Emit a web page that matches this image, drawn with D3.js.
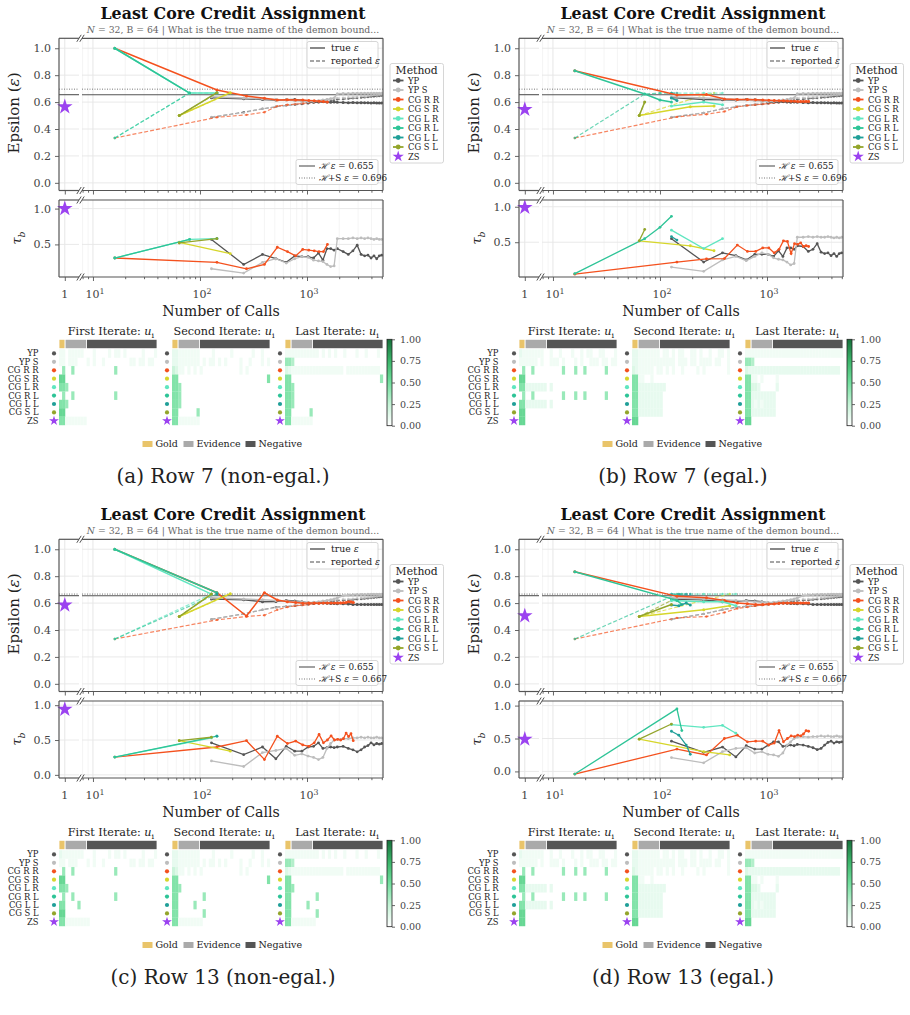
<!DOCTYPE html>
<html>
<head>
<meta charset="utf-8">
<script src="https://cdn.jsdelivr.net/npm/d3@7"></script>
<style>
  body { margin: 0; background: #fff; }
  svg { display: block; }
  text { font-family: "DejaVu Serif", serif; }
</style>
</head>
<body>
<div id="fig"></div>
<script>
// ---- methods ----
const methods = ["YP", "YP S", "CG R R", "CG S R", "CG L R", "CG R L", "CG L L", "CG S L"];
const colors = ["#555555", "#bdbdbd", "#f4511e", "#d6d62a", "#5fe6c0", "#2ec497", "#1f9f98", "#93a52b"];
const zsColor = "#9b42f0";

const captions = ["(a) Row 7 (non-egal.)", "(b) Row 7 (egal.)", "(c) Row 13 (non-egal.)", "(d) Row 13 (egal.)"];
const hValue = 0.655;
const hsValues = [0.696, 0.696, 0.667, 0.667];
const zsEps = [0.565, 0.545, 0.585, 0.505];
const zsTau = [1.0, 0.99, 0.94, 0.49];
const tauDomains = [[0.045, 1.12], [0.01, 1.095], [-0.045, 1.06], [-0.10, 1.07]];

// ---- series: [calls, true eps, reported eps, tau_b] ----
// panel a
const a_YP = [[128,.632,.487,.57],[256,.625,.525,.22],[384,.62,.55,.36],[512,.615,.565,.30],[640,.618,.575,.25],[768,.62,.58,.34],[896,.612,.585,.33],[1024,.60,.59,.33],[1152,.603,.595,.31],[1280,.60,.60,.38],[1408,.605,.605,.28],[1536,.60,.61,.44],[1664,.598,.612,.44],[1792,.60,.615,.42],[1920,.598,.62,.44],[2176,.597,.622,.40],[2432,.596,.625,.36],[2688,.597,.628,.41],[2944,.595,.63,.49],[3200,.596,.633,.36],[3456,.595,.635,.34],[3712,.595,.637,.35],[3968,.594,.64,.31],[4224,.595,.642,.34],[4480,.594,.643,.30],[4736,.594,.645,.34],[4992,.594,.647,.35]];
const a_YPS = [[128,.64,.49,.16],[256,.63,.52,.10],[384,.625,.55,.25],[512,.62,.565,.30],[640,.615,.575,.24],[768,.61,.585,.30],[896,.608,.595,.33],[1024,.605,.60,.32],[1152,.607,.605,.28],[1280,.61,.61,.27],[1408,.615,.615,.26],[1536,.62,.62,.22],[1664,.625,.625,.19],[1792,.63,.628,.20],[1920,.662,.63,.58],[2176,.664,.633,.58],[2432,.664,.636,.58],[2688,.665,.638,.59],[2944,.665,.64,.58],[3200,.665,.643,.59],[3456,.665,.645,.58],[3712,.665,.647,.59],[3968,.666,.65,.58],[4224,.666,.652,.57],[4480,.666,.653,.58],[4736,.666,.655,.57],[4992,.666,.657,.57]];
const a_CGRR = [[16,1.0,.333,.31],[144,.69,.487,.25],[272,.645,.505,.16],[400,.628,.525,.22],[528,.615,.57,.46],[656,.618,.58,.40],[784,.615,.585,.34],[912,.615,.59,.43],[1040,.612,.595,.42],[1168,.61,.598,.41],[1296,.607,.60,.40],[1424,.605,.60,.40],[1552,.60,.60,.50]];
const a_CGSR = [[64,.50,.50,.53],[192,.67,.667,.37]];
const a_CGLR = [[16,1.0,.333,.31],[80,.667,.667,.57],[144,.667,.667,.58]];
const a_CGRL = [[16,1.0,.333,.31],[80,.667,.667,.57]];
const a_CGLL = [[144,.667,.667,.58]];
const a_CGSL = [[64,.50,.50,.52],[144,.67,.667,.58]];

// panel b
const b_YP = [[128,.635,.487,.55],[256,.62,.52,.22],[384,.618,.55,.35],[512,.615,.565,.31],[640,.62,.575,.25],[768,.618,.58,.33],[896,.612,.585,.33],[1024,.60,.59,.33],[1152,.602,.595,.30],[1280,.60,.60,.38],[1408,.604,.605,.30],[1536,.60,.61,.42],[1664,.598,.612,.42],[1792,.60,.615,.40],[1920,.598,.62,.45],[2176,.597,.622,.44],[2432,.596,.625,.37],[2688,.597,.628,.40],[2944,.595,.63,.48],[3200,.596,.633,.36],[3456,.595,.635,.34],[3712,.595,.637,.35],[3968,.594,.64,.31],[4224,.595,.642,.34],[4480,.594,.643,.30],[4736,.594,.645,.34],[4992,.594,.647,.35]];
const b_YPS = [[128,.64,.49,.15],[256,.63,.52,.09],[384,.625,.55,.25],[512,.62,.565,.30],[640,.615,.575,.24],[768,.61,.585,.30],[896,.608,.595,.35],[1024,.605,.60,.33],[1152,.607,.605,.28],[1280,.61,.61,.26],[1408,.615,.615,.25],[1536,.62,.62,.22],[1664,.625,.625,.18],[1792,.63,.628,.20],[1920,.662,.63,.57],[2176,.664,.633,.57],[2432,.664,.636,.58],[2688,.665,.638,.57],[2944,.665,.64,.58],[3200,.665,.643,.57],[3456,.665,.645,.57],[3712,.665,.647,.58],[3968,.666,.65,.57],[4224,.666,.652,.56],[4480,.666,.653,.57],[4736,.666,.655,.56],[4992,.666,.657,.57]];
const b_CGRR = [[16,.833,.333,.05],[144,.652,.49,.22],[272,.657,.51,.265],[400,.623,.53,.27],[528,.62,.565,.46],[656,.62,.575,.37],[784,.618,.58,.37],[912,.615,.585,.42],[1040,.613,.59,.42],[1168,.612,.595,.35],[1296,.61,.598,.40],[1424,.61,.60,.52],[1552,.608,.60,.51],[1680,.606,.602,.34],[1808,.606,.602,.48],[1936,.605,.603,.47],[2064,.605,.603,.49],[2192,.604,.604,.44],[2320,.604,.604,.45],[2448,.604,.604,.44]];
const b_CGSR = [[64,.50,.50,.52],[192,.565,.62,.45],[320,.57,.667,.38]];
const b_CGLR = [[128,.57,.667,.67],[256,.60,.667,.41],[384,.58,.667,.55]];
const b_CGRL = [[16,.833,.333,.058],[72,.66,.66,.55],[100,.615,.667,.71],[128,.60,.667,.865]];
const b_CGLL = [[128,.63,.667,.58],[144,.612,.667,.53]];
const b_CGSL = [[64,.50,.50,.52],[72,.60,.60,.68]];

// panel c
const c_YP = [[128,.63,.48,.46],[256,.625,.52,.29],[384,.61,.55,.40],[512,.612,.57,.23],[640,.62,.575,.41],[768,.615,.58,.34],[896,.61,.585,.34],[1024,.60,.59,.40],[1152,.60,.595,.41],[1280,.60,.60,.46],[1408,.60,.605,.38],[1536,.598,.61,.39],[1664,.597,.612,.40],[1792,.597,.615,.39],[1920,.596,.618,.40],[2176,.595,.62,.41],[2432,.594,.622,.38],[2688,.59,.625,.36],[2944,.59,.628,.33],[3200,.59,.63,.36],[3456,.59,.632,.40],[3712,.59,.635,.42],[3968,.59,.637,.46],[4224,.59,.64,.43],[4480,.59,.642,.45],[4736,.59,.644,.44],[4992,.59,.646,.45]];
const c_YPS = [[128,.64,.48,.20],[256,.63,.52,.12],[384,.625,.55,.32],[512,.62,.565,.35],[640,.615,.575,.38],[768,.61,.585,.28],[896,.608,.59,.30],[1024,.605,.595,.27],[1152,.607,.60,.25],[1280,.61,.605,.22],[1408,.615,.61,.25],[1536,.62,.615,.38],[1664,.625,.62,.45],[1792,.63,.622,.50],[1920,.64,.625,.51],[2176,.655,.628,.52],[2432,.66,.63,.52],[2688,.662,.633,.53],[2944,.663,.636,.53],[3200,.664,.638,.54],[3456,.664,.64,.53],[3712,.665,.642,.54],[3968,.665,.645,.53],[4224,.665,.647,.53],[4480,.665,.65,.54],[4736,.665,.652,.53],[4992,.665,.655,.53]];
const c_CGRR = [[16,1.0,.333,.255],[144,.677,.475,.40],[272,.504,.50,.49],[400,.677,.51,.22],[528,.623,.55,.555],[656,.61,.57,.45],[784,.605,.58,.485],[912,.598,.585,.43],[1040,.60,.59,.41],[1168,.60,.595,.46],[1296,.598,.598,.58],[1424,.60,.60,.46],[1552,.60,.60,.50],[1680,.60,.60,.56],[1808,.60,.60,.50],[1936,.60,.60,.51],[2064,.60,.602,.50],[2192,.602,.602,.52],[2320,.605,.603,.60],[2448,.61,.603,.55],[2576,.61,.604,.59],[2704,.605,.604,.49]];
const c_CGSR = [[64,.50,.50,.49],[192,.67,.667,.34]];
const c_CGLR = [[16,1.0,.333,.255],[128,.667,.667,.53]];
const c_CGRL = [[16,1.0,.333,.255],[144,.677,.667,.555]];
const c_CGLL = [[144,.667,.667,.555]];
const c_CGSL = [[64,.50,.50,.49],[128,.667,.667,.54]];

// panel d
const d_YP = [[128,.63,.48,.46],[256,.625,.52,.29],[384,.61,.55,.37],[512,.612,.57,.22],[640,.62,.575,.39],[768,.615,.58,.34],[896,.61,.585,.34],[1024,.60,.59,.40],[1152,.60,.595,.45],[1280,.60,.60,.45],[1408,.60,.605,.38],[1536,.598,.61,.39],[1664,.597,.612,.40],[1792,.597,.615,.39],[1920,.596,.618,.41],[2176,.595,.62,.40],[2432,.594,.622,.38],[2688,.59,.625,.36],[2944,.59,.628,.33],[3200,.59,.63,.35],[3456,.59,.632,.40],[3712,.59,.635,.44],[3968,.59,.637,.46],[4224,.59,.64,.43],[4480,.59,.642,.45],[4736,.59,.644,.44],[4992,.59,.646,.45]];
const d_YPS = [[128,.64,.48,.21],[256,.63,.52,.13],[384,.625,.55,.30],[512,.62,.565,.35],[640,.615,.575,.36],[768,.61,.585,.28],[896,.608,.59,.30],[1024,.605,.595,.26],[1152,.607,.60,.25],[1280,.61,.605,.23],[1408,.615,.61,.28],[1536,.62,.615,.40],[1664,.625,.62,.45],[1792,.63,.622,.50],[1920,.64,.625,.52],[2176,.655,.628,.53],[2432,.66,.63,.52],[2688,.662,.633,.53],[2944,.663,.636,.53],[3200,.664,.638,.54],[3456,.664,.64,.53],[3712,.665,.642,.54],[3968,.665,.645,.53],[4224,.665,.647,.53],[4480,.665,.65,.54],[4736,.665,.652,.53],[4992,.665,.655,.53]];
const d_CGRR = [[16,.833,.333,-.04],[144,.65,.49,.34],[272,.64,.50,.25],[400,.62,.53,.50],[528,.60,.56,.55],[656,.595,.57,.45],[784,.59,.58,.46],[912,.59,.585,.46],[1040,.593,.59,.40],[1168,.595,.592,.43],[1296,.598,.595,.62],[1424,.60,.597,.45],[1552,.60,.598,.50],[1680,.60,.60,.54],[1808,.60,.60,.53],[1936,.60,.60,.55],[2064,.60,.60,.54],[2192,.60,.60,.57],[2320,.60,.60,.62],[2448,.60,.60,.61]];
const d_CGSR = [[64,.50,.50,.49],[256,.55,.62,.30],[448,.58,.667,.25]];
const d_CGLR = [[128,.62,.667,.71],[256,.61,.667,.67],[384,.61,.667,.70],[512,.58,.667,.58]];
const d_CGRL = [[16,.833,.333,-.04],[144,.62,.667,.95],[160,.59,.667,.62]];
const d_CGLL = [[128,.585,.667,.61],[150,.58,.667,.55],[176,.60,.667,.40],[192,.585,.667,.26]];
const d_CGSL = [[64,.50,.50,.49],[128,.59,.62,.72]];

// ---- heatmaps: 9 rows (methods + ZS) x 32 docs: 2 gold | 7 evidence | 23 negative ----
const categories = ["Gold", "Evidence", "Negative"];
const catCounts = [2, 7, 23];
const catColors = ["#e9c46a", "#aaaaaa", "#555555"];
const shade = [0, 0.03, 0.06, 0.1, 0.15, 0.22, 0.3, 0.38, 0.45, 0.55];

const heatA1 = ["22 0222220 00200002022020000020002","22 0222000 20200200000000220220220","07 0070000 00000000070000000000000","99 0000000 00000000000000000000000","88 7000000 00000000000000000000000","07 0070000 00000000070000000000000","88 7000000 00000000000000000000000","99 0000000 00000000000000000000000","88 2222222 00000000000000000000000"];
const heatA2 = ["33 2222222 00002000002000000200200","33 2222222 02022020200002002000202","54 2202020 20000000000002020000000","88 0000000 00000000000000000000008","88 7000000 00000000000000000000000","88 7000000 00000000000000000000000","88 7000000 00000000000000000000000","88 0000007 00000000000000000000000","88 2222222 00000000000000000000000"];
const heatA3 = ["22 2222222 22020202002000200200020","77 6000000 00000000000000000000000","43 2222222 22222222220222222222220","88 0000000 00000000000000000000007","88 7000000 00000000000000000000000","88 7000000 00000000000000000000000","88 7000000 00000000000000000000000","88 0000007 00000000000000000000000","88 2222222 00000000000000000000000"];

const heatB1 = ["32 2222220 02002000200202200220002","22 2222020 02220200020200222022022","07 0070000 00000700070070000007000","99 0000000 00000000000000000000000","88 3333333 03000000000000000000000","07 0070000 00000700070070000007000","88 3333333 03000000000000000000000","99 0000000 00000000000000000000000","99 0000000 00000000000000000000000"];
const heatB2 = ["33 2222222 02202022002202002002202","33 2222222 22222022202202222022002","43 2222202 20202002000020200000002","88 2200200 00000000000000000000000","88 3333333 33000000000000000000000","88 3333333 30000000000000000000000","88 3333333 30000000000000000000000","88 3333333 30000000000000000000000","99 0000000 00000000000000000000000"];
const heatB3 = ["22 2222222 22222222222222222222222","77 6000000 00000000000000000000000","43 3333333 33333333333333333333330","88 2202000 02000000000000000000000","88 4430000 03000000000000000000000","88 3333333 30000000000000000000000","88 3232333 30000000000000000000000","88 3333333 30000000000000000000000","99 0000000 00000000000000000000000"];

const heatC1 = ["32 2222220 00200002022020000020002","22 0222000 20200200000000220220220","07 0070000 00000000070000000000000","99 0000000 00000000000000000000000","88 7000000 00000000000000000000000","07 0070000 00000000070000000000000","88 0000700 00000000000000000000000","99 0000000 00000000000000000000000","88 2222222 20000000000000000000000"];
const heatC2 = ["33 2222222 00002000002000000200200","33 2222222 02022020200002002000202","54 2202020 20000000000002020000000","88 0000000 00000000000000000000008","88 7000000 00000000000000000000000","88 0000000 07000000000000000000000","88 0000070 00000000000000000000000","88 0000000 07000000000000000000000","88 2222222 20000000000000000000000"];
const heatC3 = ["22 2222222 22020202002000200200020","77 6000000 00000000000000000000000","43 2222222 22222222220222222222220","88 0000000 00000000000000000000007","88 7000000 00000000000000000000000","88 0000000 07000000000000000000000","88 0000070 00000000000000000000000","88 0000000 07000000000000000000000","88 2222222 20000000000000000000000"];

const heatD1 = ["32 2222220 02002000200202200220002","22 2222020 02220200020200222022022","07 0070000 00000700070070000007000","99 0000000 00000000000000000000000","88 3333333 03000000000000000000000","07 0070000 00000700070070000007000","88 3333333 03000000000000000000000","99 0000000 00000000000000000000000","99 0000000 00000000000000000000000"];
const heatD2 = ["33 2222222 02202022002202002002202","33 2222222 22222022202202222022002","43 2222202 20202002000020200000002","88 2200200 00000000000000000000000","88 3333333 33000000000000000000000","88 3333333 30000000000000000000000","88 3333333 30000000000000000000000","88 3333333 30000000000000000000000","99 0000000 00000000000000000000000"];
const heatD3 = ["22 2222222 22222222222222222222222","77 6000000 00000000000000000000000","43 3333333 33333333333333333333330","88 2202000 02000000000000000000000","88 4430000 03000000000000000000000","88 3333333 30000000000000000000000","88 3232333 30000000000000000000000","88 3333333 30000000000000000000000","99 0000000 00000000000000000000000"];

const iterTitles = ["First Iterate: ", "Second Iterate: ", "Last Iterate: "];

const allSeries = [
  [a_YP, a_YPS, a_CGRR, a_CGSR, a_CGLR, a_CGRL, a_CGLL, a_CGSL],
  [b_YP, b_YPS, b_CGRR, b_CGSR, b_CGLR, b_CGRL, b_CGLL, b_CGSL],
  [c_YP, c_YPS, c_CGRR, c_CGSR, c_CGLR, c_CGRL, c_CGLL, c_CGSL],
  [d_YP, d_YPS, d_CGRR, d_CGSR, d_CGLR, d_CGRL, d_CGLL, d_CGSL]
];
const allHeat = [[heatA1, heatA2, heatA3], [heatB1, heatB2, heatB3], [heatC1, heatC2, heatC3], [heatD1, heatD2, heatD3]];

// ---- layout ----
const offsets = [[0, 0], [460, 0], [0, 501], [460, 501]];
const L = { x0: 59, x1: 79, x2: 82, x3: 383, eTop: 38.3, eBot: 190.5, tTop: 200, tBot: 277 };

const svg = d3.select("#fig").append("svg").attr("width", 910).attr("height", 1015);
const defs = svg.append("defs");

const cmap = d3.scaleLinear().domain([0, 0.25, 0.5, 0.75, 1])
  .range(["#ffffff", "#c4f3d6", "#72df9e", "#3bb56a", "#16703b"]);

function richText(g, x, y, parts, size, anchor, fill) {
  const t = g.append("text").attr("x", x).attr("y", y).attr("font-size", size)
    .attr("text-anchor", anchor || "start").attr("fill", fill || "#222");
  let cur = 0;
  parts.forEach(p => {
    const [s, st] = typeof p === "string" ? [p, ""] : p;
    const ts = t.append("tspan").text(s);
    let shift = 0;
    if (st.includes("i")) ts.attr("font-style", "italic");
    if (st.includes("sub")) { shift = size * 0.3; ts.attr("font-size", size * 0.72); }
    if (st.includes("sup")) { shift = -size * 0.4; ts.attr("font-size", size * 0.72); }
    if (shift !== cur) ts.attr("dy", shift - cur);
    cur = shift;
  });
  return t;
}

function styleAxis(sel, size) {
  sel.select(".domain").remove();
  sel.selectAll(".tick line").attr("stroke", "#555").attr("stroke-width", 0.9);
  sel.selectAll(".tick text").attr("fill", "#444").attr("font-size", size || 11)
    .attr("font-family", "DejaVu Serif");
}

const majors = [10, 100, 1000];
const minors = [8, 9, 20, 30, 40, 50, 60, 70, 80, 90, 200, 300, 400, 500, 600, 700, 800, 900, 2000, 3000, 4000, 5000];

function frame(g, yTop, yBot) {
  const seg = (x1, y1, x2, y2) => g.append("line").attr("x1", x1).attr("y1", y1).attr("x2", x2).attr("y2", y2)
    .attr("stroke", "#555").attr("stroke-width", 1.2);
  seg(L.x0, yTop, L.x1, yTop); seg(L.x0, yBot, L.x1, yBot); seg(L.x0, yTop, L.x0, yBot);
  seg(L.x2, yTop, L.x3, yTop); seg(L.x2, yBot, L.x3, yBot); seg(L.x3, yTop, L.x3, yBot);
  // break marks
  [yTop, yBot].forEach(y => {
    [L.x1, L.x2].forEach(x => {
      g.append("line").attr("x1", x - 2.2).attr("y1", y + 3.5).attr("x2", x + 2.2).attr("y2", y - 3.5)
        .attr("stroke", "#555").attr("stroke-width", 1);
    });
  });
}

function drawPanel(k) {
  const [ox, oy] = offsets[k];
  const g = svg.append("g").attr("transform", `translate(${ox},${oy})`);
  const series = allSeries[k];

  const xMain = d3.scaleLog().domain([7.9, 5130]).range([L.x2, L.x3]);
  const xZS = d3.scaleLinear().domain([0.55, 2.1]).range([L.x0, L.x1]);
  const yEps = d3.scaleLinear().domain([-0.057, 1.074]).range([L.eBot, L.eTop]);
  const yTau = d3.scaleLinear().domain(tauDomains[k]).range([L.tBot, L.tTop]);

  // title
  g.append("text").attr("x", 233).attr("y", 18.5).attr("text-anchor", "middle")
    .attr("font-size", 15.8).attr("font-weight", "bold").attr("fill", "#111")
    .text("Least Core Credit Assignment");
  richText(g, 233, 32.5, [["N", "i"], " = 32,  B = 64   |   What is the true name of the demon bound..."], 9.3, "middle", "#666");

  // ---- grids ----
  const grid = g.append("g");
  [[L.eTop, L.eBot], [L.tTop, L.tBot]].forEach(([t, b]) => {
    minors.forEach(v => grid.append("line").attr("x1", xMain(v)).attr("x2", xMain(v)).attr("y1", t).attr("y2", b)
      .attr("stroke", "#f1f1f1").attr("stroke-width", 0.8));
    majors.forEach(v => grid.append("line").attr("x1", xMain(v)).attr("x2", xMain(v)).attr("y1", t).attr("y2", b)
      .attr("stroke", "#e3e3e3").attr("stroke-width", 0.9));
    grid.append("line").attr("x1", xZS(1)).attr("x2", xZS(1)).attr("y1", t).attr("y2", b)
      .attr("stroke", "#e3e3e3").attr("stroke-width", 0.9);
  });
  const epsTicks = [0, 0.2, 0.4, 0.6, 0.8, 1.0];
  const tauTicks = [0, 0.5, 1.0].filter(v => v >= tauDomains[k][0] && v <= tauDomains[k][1]);
  epsTicks.forEach(v => [[L.x0, L.x1], [L.x2, L.x3]].forEach(([a, b]) =>
    grid.append("line").attr("x1", a).attr("x2", b).attr("y1", yEps(v)).attr("y2", yEps(v))
      .attr("stroke", "#e6e6e6").attr("stroke-width", 0.9)));
  tauTicks.forEach(v => [[L.x0, L.x1], [L.x2, L.x3]].forEach(([a, b]) =>
    grid.append("line").attr("x1", a).attr("x2", b).attr("y1", yTau(v)).attr("y2", yTau(v))
      .attr("stroke", "#e6e6e6").attr("stroke-width", 0.9)));

  // ---- reference lines ----
  [[L.x0, L.x1], [L.x2, L.x3]].forEach(([a, b]) => {
    g.append("line").attr("x1", a).attr("x2", b).attr("y1", yEps(hValue)).attr("y2", yEps(hValue))
      .attr("stroke", "#555").attr("stroke-width", 1.1);
    g.append("line").attr("x1", a).attr("x2", b).attr("y1", yEps(hsValues[k])).attr("y2", yEps(hsValues[k]))
      .attr("stroke", "#777").attr("stroke-width", 1).attr("stroke-dasharray", "1,1.5");
  });

  // clips
  defs.append("clipPath").attr("id", "ce" + k).append("rect")
    .attr("x", L.x2).attr("y", L.eTop).attr("width", L.x3 - L.x2).attr("height", L.eBot - L.eTop);
  defs.append("clipPath").attr("id", "ct" + k).append("rect")
    .attr("x", L.x2).attr("y", L.tTop).attr("width", L.x3 - L.x2).attr("height", L.tBot - L.tTop);

  const gE = g.append("g").attr("clip-path", `url(#ce${k})`);
  const gT = g.append("g").attr("clip-path", `url(#ct${k})`);

  // reported (dashed) first
  series.forEach((s, m) => {
    const line = d3.line().x(d => xMain(d[0])).y(d => yEps(d[2]));
    gE.append("path").attr("d", line(s)).attr("fill", "none").attr("stroke", colors[m])
      .attr("stroke-width", 1.2).attr("stroke-dasharray", "4,2").attr("opacity", 0.7);
    gE.selectAll(null).data(s).join("circle").attr("cx", d => xMain(d[0])).attr("cy", d => yEps(d[2]))
      .attr("r", 1.2).attr("fill", colors[m]).attr("opacity", 0.7);
  });
  // true eps (solid)
  series.forEach((s, m) => {
    const line = d3.line().x(d => xMain(d[0])).y(d => yEps(d[1]));
    gE.append("path").attr("d", line(s)).attr("fill", "none").attr("stroke", colors[m]).attr("stroke-width", 1.5);
    gE.selectAll(null).data(s).join("circle").attr("cx", d => xMain(d[0])).attr("cy", d => yEps(d[1]))
      .attr("r", 1.5).attr("fill", colors[m]);
  });
  // tau
  series.forEach((s, m) => {
    const line = d3.line().x(d => xMain(d[0])).y(d => yTau(d[3]));
    gT.append("path").attr("d", line(s)).attr("fill", "none").attr("stroke", colors[m]).attr("stroke-width", 1.3);
    gT.selectAll(null).data(s).join("circle").attr("cx", d => xMain(d[0])).attr("cy", d => yTau(d[3]))
      .attr("r", 1.4).attr("fill", colors[m]);
  });

  // ZS stars
  const star = d3.symbol().type(d3.symbolStar).size(75)();
  g.append("path").attr("d", star).attr("transform", `translate(${xZS(1)},${yEps(zsEps[k])})`).attr("fill", zsColor);
  g.append("path").attr("d", star).attr("transform", `translate(${xZS(1)},${yTau(zsTau[k])})`).attr("fill", zsColor);

  // frames
  frame(g, L.eTop, L.eBot);
  frame(g, L.tTop, L.tBot);

  // ---- axes ----
  const yAxE = g.append("g").attr("transform", `translate(${L.x0},0)`)
    .call(d3.axisLeft(yEps).tickValues(epsTicks).tickFormat(d3.format(".1f")).tickSize(4).tickPadding(4));
  styleAxis(yAxE, 11);
  const yAxT = g.append("g").attr("transform", `translate(${L.x0},0)`)
    .call(d3.axisLeft(yTau).tickValues(tauTicks).tickFormat(d3.format(".1f")).tickSize(4).tickPadding(4));
  styleAxis(yAxT, 11);

  [L.eBot, L.tBot].forEach(yb => {
    const a1 = g.append("g").attr("transform", `translate(0,${yb})`)
      .call(d3.axisBottom(xMain).tickValues(majors).tickSize(4).tickFormat(""));
    styleAxis(a1);
    const a2 = g.append("g").attr("transform", `translate(0,${yb})`)
      .call(d3.axisBottom(xMain).tickValues(minors).tickSize(2.2).tickFormat(""));
    styleAxis(a2);
    const a3 = g.append("g").attr("transform", `translate(0,${yb})`)
      .call(d3.axisBottom(xZS).tickValues([1]).tickSize(4).tickFormat(""));
    styleAxis(a3);
  });
  // x tick labels (tau plot)
  richText(g, xZS(1), 298, ["1"], 11, "middle", "#444");
  majors.forEach((v, i) => richText(g, xMain(v) + 2, 298, ["10", [String(i + 1), "sup"]], 11, "middle", "#444"));

  // axis labels
  richText(g, 0, 0, ["Epsilon (", ["ε", "i"], ")"], 15, "middle", "#222")
    .attr("transform", "translate(18.5,113) rotate(-90)");
  richText(g, 0, 0, [["τ", "i"], ["b", "i sub"]], 13, "middle", "#222")
    .attr("transform", "translate(21,238) rotate(-90)");
  g.append("text").attr("x", 221).attr("y", 316).attr("text-anchor", "middle")
    .attr("font-size", 14.2).attr("fill", "#222").text("Number of Calls");

  // ---- legends ----
  // true / reported
  const lg1 = g.append("g");
  lg1.append("rect").attr("x", 307).attr("y", 41.5).attr("width", 71).attr("height", 26.5).attr("rx", 2)
    .attr("fill", "#fff").attr("fill-opacity", 0.85).attr("stroke", "#ccc").attr("stroke-width", 0.8);
  lg1.append("line").attr("x1", 310).attr("x2", 325).attr("y1", 48).attr("y2", 48).attr("stroke", "#888").attr("stroke-width", 2);
  lg1.append("line").attr("x1", 310).attr("x2", 325).attr("y1", 61).attr("y2", 61).attr("stroke", "#888")
    .attr("stroke-width", 1.5).attr("stroke-dasharray", "4,2");
  richText(lg1, 331, 51.3, ["true ", ["ε", "i"]], 9.3, "start", "#222");
  richText(lg1, 331, 64.3, ["reported ", ["ε", "i"]], 9.3, "start", "#222");

  // H legend
  const lg2 = g.append("g");
  lg2.append("rect").attr("x", 296).attr("y", 159.5).attr("width", 82).attr("height", 25).attr("rx", 2)
    .attr("fill", "#fff").attr("fill-opacity", 0.85).attr("stroke", "#ccc").attr("stroke-width", 0.8);
  lg2.append("line").attr("x1", 299).attr("x2", 315).attr("y1", 166).attr("y2", 166).attr("stroke", "#555").attr("stroke-width", 1.1);
  lg2.append("line").attr("x1", 299).attr("x2", 315).attr("y1", 178).attr("y2", 178).attr("stroke", "#777")
    .attr("stroke-width", 1).attr("stroke-dasharray", "1,1.5");
  richText(lg2, 319, 169.2, [["ℋ", "i"], " ", ["ε", "i"], " = " + hValue.toFixed(3)], 8.8, "start", "#222");
  richText(lg2, 319, 181.2, [["ℋ", "i"], "+S ", ["ε", "i"], " = " + hsValues[k].toFixed(3)], 8.8, "start", "#222");

  // Method legend
  const lg3 = g.append("g");
  lg3.append("rect").attr("x", 390).attr("y", 63.5).attr("width", 53.5).attr("height", 99.5).attr("rx", 2)
    .attr("fill", "#fff").attr("stroke", "#ccc").attr("stroke-width", 0.8);
  lg3.append("text").attr("x", 416.7).attr("y", 73.8).attr("text-anchor", "middle").attr("font-size", 10.8)
    .attr("fill", "#222").text("Method");
  methods.forEach((m, i) => {
    const y = 80.5 + i * 9.5;
    lg3.append("line").attr("x1", 393).attr("x2", 403.5).attr("y1", y).attr("y2", y).attr("stroke", colors[i]).attr("stroke-width", 1.8);
    lg3.append("circle").attr("cx", 398.2).attr("cy", y).attr("r", 2.4).attr("fill", colors[i]);
    lg3.append("text").attr("x", 408).attr("y", y + 3).attr("font-size", 8.4).attr("fill", "#222").text(m);
  });
  const yZ = 80.5 + 8 * 9.5;
  lg3.append("path").attr("d", d3.symbol().type(d3.symbolStar).size(40)()).attr("transform", `translate(398.2,${yZ})`).attr("fill", zsColor);
  lg3.append("text").attr("x", 408).attr("y", yZ + 3).attr("font-size", 8.4).attr("fill", "#222").text("ZS");

  // ---- heatmaps ----
  const hmX = [59, 172, 285], hmW = 98, nCols = 32;
  const cw = hmW / nCols;
  const barY = 339.3, barH = 9.4, hmTop = 349.2, rowH = 8.43;
  const rowNames = methods.concat(["ZS"]);
  const rowColors = colors.concat([zsColor]);
  allHeat[k].forEach((rows, h) => {
    const hx = hmX[h];
    const hg = g.append("g");
    richText(hg, hx + hmW / 2 + 3, 335, [iterTitles[h], ["u", "i"], ["i", "sub"]], 11.2, "middle", "#222");
    // category bar
    let c0 = 0;
    catCounts.forEach((n, ci) => {
      hg.append("rect").attr("x", hx + c0 * cw).attr("y", barY).attr("width", n * cw).attr("height", barH)
        .attr("fill", catColors[ci]).attr("stroke", "#fff").attr("stroke-width", 0.8);
      c0 += n;
    });
    // cells
    rows.forEach((str, r) => {
      const s = str.replace(/ /g, "");
      for (let c = 0; c < nCols; c++) {
        const v = shade[+s[c]];
        if (v > 0) hg.append("rect").attr("x", hx + c * cw).attr("y", hmTop + r * rowH)
          .attr("width", cw + 0.15).attr("height", rowH + 0.15).attr("fill", cmap(v));
      }
      const my = hmTop + r * rowH + rowH / 2;
      if (r < 8) hg.append("circle").attr("cx", hx - 5).attr("cy", my).attr("r", 2.1).attr("fill", rowColors[r]);
      else hg.append("path").attr("d", d3.symbol().type(d3.symbolStar).size(30)()).attr("transform", `translate(${hx - 5},${my})`).attr("fill", zsColor);
      if (h === 0) hg.append("text").attr("x", 38.5).attr("y", my + 3).attr("text-anchor", "end")
        .attr("font-size", 8.4).attr("fill", "#222").text(rowNames[r]);
    });
  });

  // colorbar
  const gradId = "cb" + k;
  const grad = defs.append("linearGradient").attr("id", gradId).attr("x1", 0).attr("y1", 1).attr("x2", 0).attr("y2", 0);
  d3.range(0, 1.0001, 0.125).forEach(t => grad.append("stop").attr("offset", t).attr("stop-color", cmap(t)));
  const cbY = d3.scaleLinear().domain([0, 1]).range([425.7, 339.3]);
  g.append("rect").attr("x", 387).attr("y", 339.3).attr("width", 5).attr("height", 86.4)
    .attr("fill", `url(#${gradId})`).attr("stroke", "#222").attr("stroke-width", 0.8);
  const cbAx = g.append("g").attr("transform", "translate(392,0)")
    .call(d3.axisRight(cbY).tickValues([0, 0.25, 0.5, 0.75, 1]).tickFormat(d3.format(".2f")).tickSize(3).tickPadding(5));
  styleAxis(cbAx, 9.5);

  // category legend
  const legX = [142.5, 183.5, 245.5];
  categories.forEach((c, i) => {
    g.append("rect").attr("x", legX[i]).attr("y", 441).attr("width", 10).attr("height", 6).attr("fill", catColors[i]);
    g.append("text").attr("x", legX[i] + 13).attr("y", 447.3).attr("font-size", 9.5).attr("fill", "#222").text(c);
  });

  // caption
  g.append("text").attr("x", 223).attr("y", 483).attr("text-anchor", "middle").attr("font-size", 20)
    .attr("font-family", "Liberation Serif").attr("fill", "#222").text(captions[k]);
}

[0, 1, 2, 3].forEach(drawPanel);
</script>
</body>
</html>
